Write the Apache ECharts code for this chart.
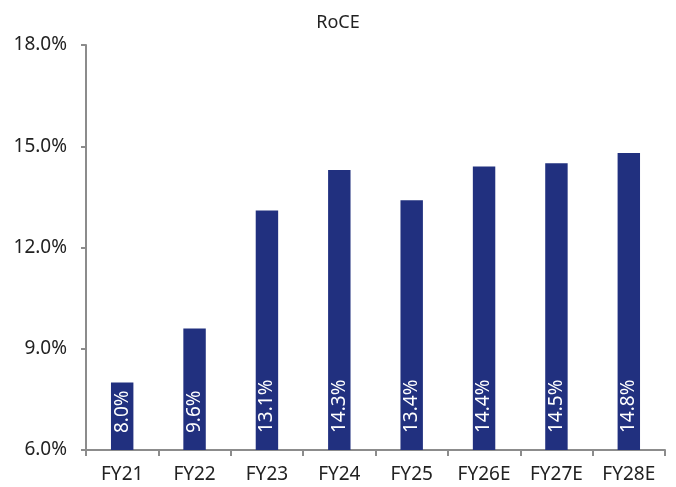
<!DOCTYPE html>
<html>
<head>
<meta charset="utf-8">
<script src="https://cdn.jsdelivr.net/npm/echarts@6/dist/echarts.min.js"></script>
<style>
  html, body { margin: 0; padding: 0; background: #fff; }
  #chart { width: 676px; height: 487px; }
</style>
</head>
<body>
<div id="chart"></div>
<script>
// Return on capital employed by fiscal year (E = estimate)
const categories = ['FY21', 'FY22', 'FY23', 'FY24', 'FY25', 'FY26E', 'FY27E', 'FY28E'];
const roceValues = [8.0, 9.6, 13.1, 14.3, 13.4, 14.4, 14.5, 14.8];
const yTicks = { min: 6, max: 18, interval: 3 };

const chart = echarts.init(document.getElementById('chart'), null, { renderer: 'canvas' });
const font = '"Noto Sans", sans-serif';
const axisGrey = '#8c8c8c';

chart.setOption({
  animation: false,
  title: {
    text: 'RoCE',
    left: 'center',
    top: 9,
    textStyle: { fontFamily: font, fontSize: 18, fontWeight: 'normal', color: '#222' }
  },
  grid: { left: 86, right: 11, top: 45, bottom: 37, containLabel: false },
  xAxis: {
    type: 'category',
    data: categories,
    axisLine: { lineStyle: { color: axisGrey, width: 2 } },
    axisTick: { show: true, alignWithLabel: false, length: 6, lineStyle: { color: axisGrey, width: 2 } },
    axisLabel: { fontFamily: font, fontSize: 19, color: '#222', margin: 15 }
  },
  yAxis: {
    type: 'value',
    min: yTicks.min,
    max: yTicks.max,
    interval: yTicks.interval,
    splitLine: { show: false },
    axisLine: { show: true, lineStyle: { color: axisGrey, width: 2 } },
    axisTick: { show: true, length: 5, lineStyle: { color: axisGrey, width: 2 } },
    axisLabel: {
      fontFamily: font, fontSize: 19, color: '#222', margin: 19,
      formatter: v => v.toFixed(1) + '%'
    }
  },
  series: [{
    type: 'bar',
    data: roceValues,
    barWidth: '31%',
    itemStyle: { color: '#21307f' },
    label: {
      show: true,
      position: 'insideBottom',
      rotate: 90,
      align: 'left',
      verticalAlign: 'middle',
      distance: 17,
      fontFamily: font,
      fontSize: 19,
      color: '#ffffff',
      formatter: p => p.value.toFixed(1) + '%'
    }
  }]
});
</script>
</body>
</html>
